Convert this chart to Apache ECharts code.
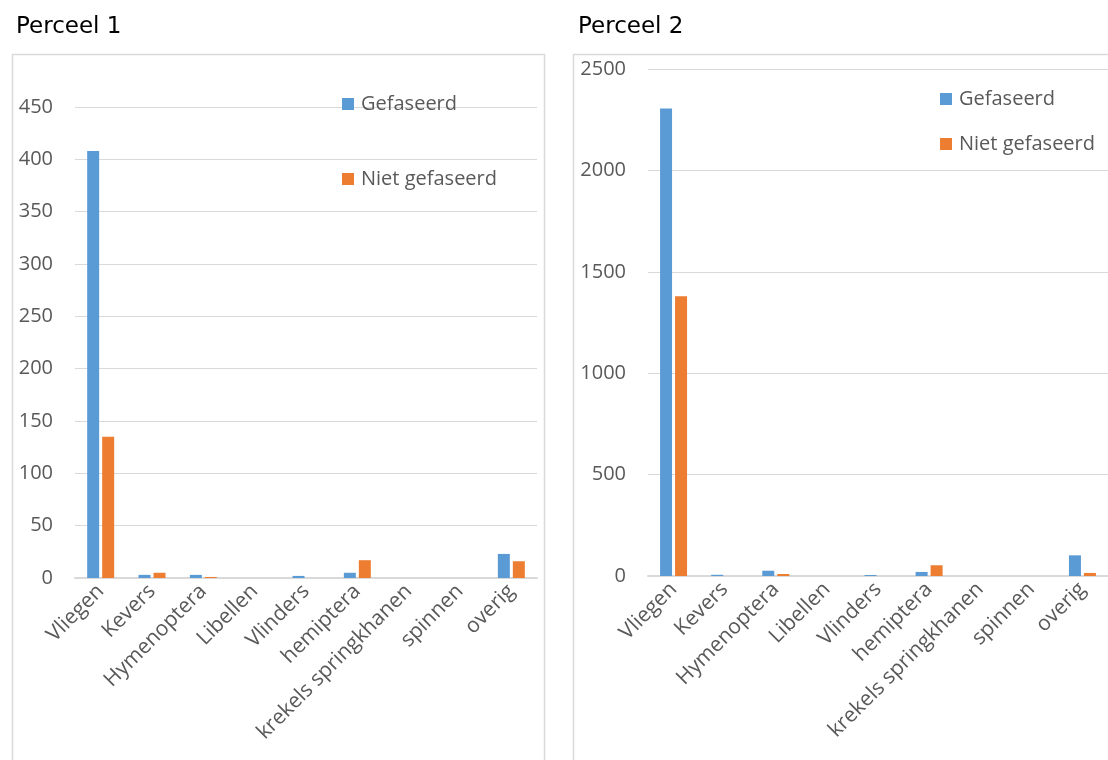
<!DOCTYPE html>
<html>
<head>
<meta charset="utf-8">
<script src="https://cdn.jsdelivr.net/npm/echarts@6/dist/echarts.min.js"></script>
<style>
  html, body { margin: 0; padding: 0; background: #ffffff; }
  #chart { width: 1108px; height: 760px; }
</style>
</head>
<body>
<div id="chart"></div>
<script>
// Insect counts per group, two plots (phased vs. non-phased mowing)
const categories = ['Vliegen', 'Kevers', 'Hymenoptera', 'Libellen', 'Vlinders', 'hemiptera', 'krekels springkhanen', 'spinnen', 'overig'];
const seriesNames = ['Gefaseerd', 'Niet gefaseerd'];

const perceel1Gefaseerd = [408, 3, 3, 0, 2, 5, 0, 0, 23];
const perceel1NietGefaseerd = [135, 5, 1, 0, 0, 17, 0, 0, 16];

const perceel2Gefaseerd = [2305, 6, 26, 0, 5, 20, 0, 0, 102];
const perceel2NietGefaseerd = [1380, 0, 10, 0, 0, 53, 0, 0, 15];

const perceel1Ticks = { min: 0, max: 450, interval: 50 };
const perceel2Ticks = { min: 0, max: 2500, interval: 500 };

const titles = ['Perceel 1', 'Perceel 2'];

const BLUE = '#5B9BD5';
const ORANGE = '#ED7D31';
const GRID_COLOR = '#d9d9d9';
const LABEL_COLOR = '#595959';
const FONT = '"Open Sans", "Noto Sans", sans-serif';
const TITLE_FONT = '"DejaVu Sans", sans-serif';

const chart = echarts.init(document.getElementById('chart'), null, { renderer: 'canvas' });

function xAxis(gridIndex) {
  return {
    type: 'category',
    gridIndex,
    data: categories,
    axisTick: { show: false },
    axisLine: { show: true, lineStyle: { color: GRID_COLOR, width: 2 } },
    axisLabel: {
      interval: 0,
      rotate: 45,
      margin: 10,
      color: LABEL_COLOR,
      fontFamily: FONT,
      fontSize: 21
    }
  };
}

function yAxis(gridIndex, ticks) {
  return {
    type: 'value',
    gridIndex,
    min: ticks.min,
    max: ticks.max,
    interval: ticks.interval,
    axisLine: { show: false },
    axisTick: { show: false },
    splitLine: { lineStyle: { color: GRID_COLOR, width: 1 } },
    axisLabel: {
      margin: 22,
      color: LABEL_COLOR,
      fontFamily: FONT,
      fontSize: 20,
      formatter: (v) => String(v)
    }
  };
}

function bar(name, idx, data, color) {
  return {
    name,
    type: 'bar',
    xAxisIndex: idx,
    yAxisIndex: idx,
    data,
    barWidth: 12,
    barGap: '25%',
    itemStyle: { color },
    emphasis: { disabled: true }
  };
}

function legendItem(name, left, top) {
  return {
    data: [name],
    left,
    top,
    orient: 'vertical',
    itemWidth: 12,
    itemHeight: 12,
    itemGap: 0,
    padding: 0,
    icon: 'rect',
    selectedMode: false,
    textStyle: { color: LABEL_COLOR, fontFamily: FONT, fontSize: 20, padding: [0, 0, 0, 2] }
  };
}

const option = {
  animation: false,
  backgroundColor: '#ffffff',
  title: [
    { text: titles[0], left: 11, top: 11, textStyle: { color: '#000000', fontFamily: TITLE_FONT, fontWeight: 'normal', fontSize: 23 } },
    { text: titles[1], left: 573, top: 11, textStyle: { color: '#000000', fontFamily: TITLE_FONT, fontWeight: 'normal', fontSize: 23 } }
  ],
  graphic: [
    { type: 'rect', shape: { x: 12.5, y: 54.5, width: 532, height: 720 }, style: { fill: 'none', stroke: GRID_COLOR, lineWidth: 1.5 }, silent: true, z: -1 },
    { type: 'rect', shape: { x: 573.5, y: 54.5, width: 560, height: 720 }, style: { fill: 'none', stroke: GRID_COLOR, lineWidth: 1.5 }, silent: true, z: -1 }
  ],
  legend: [
    legendItem(seriesNames[0], 342, 94),
    legendItem(seriesNames[1], 342, 169),
    legendItem(seriesNames[0], 940, 89),
    legendItem(seriesNames[1], 940, 134)
  ],
  grid: [
    { left: 75, top: 107, width: 462, height: 471 },
    { left: 648, top: 69, width: 461, height: 507 }
  ],
  xAxis: [xAxis(0), xAxis(1)],
  yAxis: [yAxis(0, perceel1Ticks), yAxis(1, perceel2Ticks)],
  series: [
    bar(seriesNames[0], 0, perceel1Gefaseerd, BLUE),
    bar(seriesNames[1], 0, perceel1NietGefaseerd, ORANGE),
    bar(seriesNames[0], 1, perceel2Gefaseerd, BLUE),
    bar(seriesNames[1], 1, perceel2NietGefaseerd, ORANGE)
  ]
};

chart.setOption(option);
</script>
</body>
</html>
